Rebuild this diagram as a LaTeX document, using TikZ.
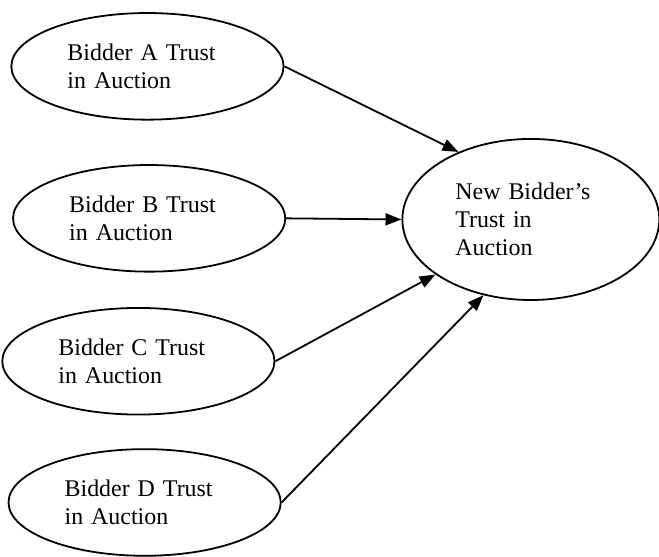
\documentclass[tikz,border=0pt]{standalone}
\usepackage{fontspec}
\setmainfont{Liberation Serif}
\usetikzlibrary{shapes.geometric,arrows.meta}

\begin{document}
\begin{tikzpicture}
	[line width=.9pt,>={Triangle[length=8pt,width=6pt]},
	every node/.style={ellipse, draw, inner sep=0pt, align=left, font=\fontsize{12}{14}\selectfont},
	bidder/.style={minimum width=4.8cm, minimum height=1.88cm, text width=2.82cm},
	newbidder/.style={minimum width=4.53cm, minimum height=2.84cm, text width=2.66cm}]
	\useasboundingbox (0,0) rectangle (11.62,9.81);
	\node[bidder] (a) at (2.60,8.64) {Bidder A Trust\\in Auction};
	\node[bidder] (b) at (2.63,5.96) {Bidder B Trust\\in Auction};
	\node[bidder] (c) at (2.44,3.44) {Bidder C Trust\\in Auction};
	\node[bidder] (d) at (2.55,0.95) {Bidder D Trust\\in Auction};
	\node[newbidder] (n) at (9.36,5.94) {New Bidder's\\Trust in\\Auction};
	
	\foreach \from/\to in {a/137,b/180,c/210,d/238}
	\draw[->] (\from.east) -- (n.\to);
\end{tikzpicture}
\end{document}
